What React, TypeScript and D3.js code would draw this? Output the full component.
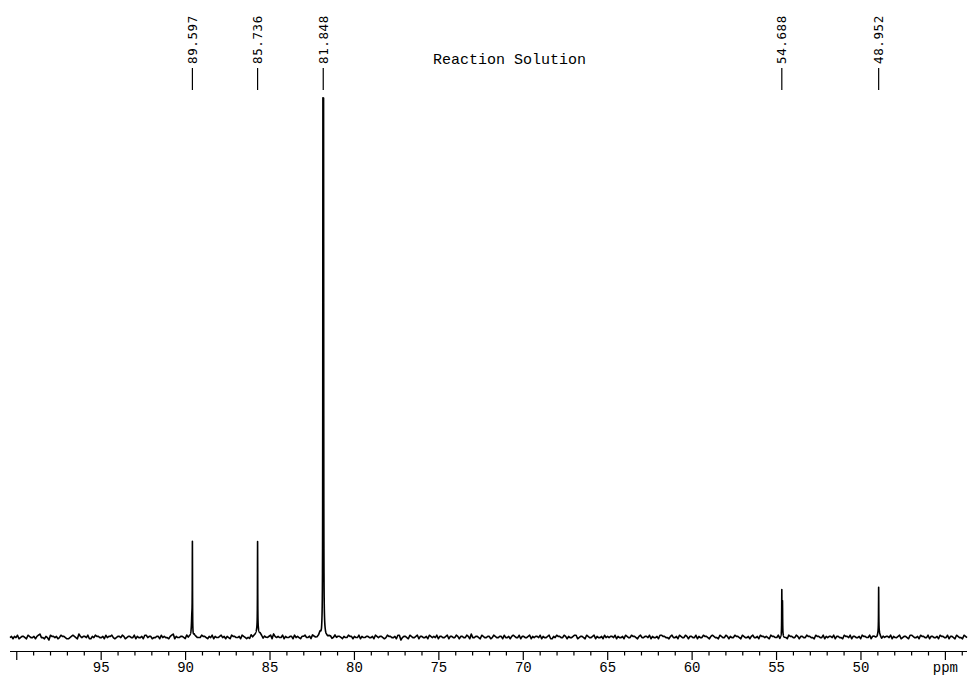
import React from "react";
import * as d3 from "d3";

// 13C spectrum of the reaction solution: resolved signals (ppm) and intensities (main line = 100)
const peakPpm = [89.597, 85.736, 81.848, 54.688, 48.952];
const peakHeight = [16.1, 15.9, 95.6, 8.3, 8.0];
const peakHalfWidth = [0.008, 0.008, 0.008, 0.008, 0.008];
// the strong line is an unresolved pair split by this much (ppm)
const peakSplit = [0, 0, 0.04, 0, 0];
// minor components sitting under each line (height, offset in ppm, half width)
const shoulderHeight = [3.7, 1.9, 4.4, 6.3, 0.9];
const shoulderOffset = [0.03, 0, 0, -0.04, 0];
const shoulderHalfWidth = [0.03, 0.08, 0.06, 0.01, 0.06];

// baseline noise, one digit per sample from 100.4 ppm downfield to 43.7 ppm
const baselineNoise = [
  "45354634554365445356744354265545346554334565437545546335465544536455643455465345",
  "54463544536645534455364544356735445543645536544465543546354456453543655445365434",
  "36455446535445637545446354455364543556445365445736544553464554354465535446354455",
  "44536545543465544536624554365445635544536545463554456355446535544653744554365445",
  "53465445536445356544635544563545546354456335465544653544566345543654456354453645",
  "45546354453654465543564455463544536655443564453654465355446354465543565443654465",
  "35446554365445356445365545436554463554436554465355446554436554463545546355443655",
  "46355445365544635544653545546354456345543665445365544635544536554463554365443654",
].join("");

const majorTicks = [100, 95, 90, 85, 80, 75, 70, 65, 60, 55, 50, 45];
const tickLabels = ["", "95", "90", "85", "80", "75", "70", "65", "60", "55", "50", "ppm"];
const minorTicks = d3.range(44, 101).filter((v) => v % 5 !== 0);

const title = "Reaction Solution";

const W = 969;
const H = 675;
const ppmMax = 100.4;
const ppmMin = 43.72;

export default function App() {
  const x = d3.scaleLinear().domain([ppmMax, ppmMin]).range([10, 967]);
  const y = d3.scaleLinear().domain([0, 100]).range([637, 97]);

  const noiseDigits = baselineNoise.split("").map(Number);
  const nNoise = noiseDigits.length;
  const noiseAt = (ppm: number) => {
    const t = ((ppmMax - ppm) / (ppmMax - ppmMin)) * (nNoise - 1);
    const i = Math.max(0, Math.min(nNoise - 2, Math.floor(t)));
    const f = Math.max(0, Math.min(1, t - i));
    const a = noiseDigits[i] - 4.5;
    const b = noiseDigits[i + 1] - 4.5;
    return (a * (1 - f) + b * f) * 0.22;
  };
  const lor = (d: number, w: number) => 1 / (1 + (d / w) * (d / w));
  const signal = (ppm: number) => {
    let v = noiseAt(ppm);
    peakPpm.forEach((p, i) => {
      const s = peakSplit[i] / 2;
      if (s > 0) {
        v += peakHeight[i] * Math.max(lor(ppm - p - s, peakHalfWidth[i]), lor(ppm - p + s, peakHalfWidth[i]));
      } else {
        v += peakHeight[i] * lor(ppm - p, peakHalfWidth[i]);
      }
      v += shoulderHeight[i] * lor(ppm - p - shoulderOffset[i], shoulderHalfWidth[i]);
    });
    return v;
  };

  const samples: number[] = d3.range(nNoise).map(
    (i) => ppmMax - (i * (ppmMax - ppmMin)) / (nNoise - 1)
  );
  peakPpm.forEach((p) => {
    for (let k = -30; k <= 30; k++) samples.push(p + k * 0.005);
  });
  samples.sort((a, b) => b - a);

  const line = d3
    .line<number>()
    .x((p) => x(p))
    .y((p) => y(signal(p)));

  const axisY = 651.5;

  return (
    <svg
      width={W}
      height={H}
      style={{ position: "absolute", left: 0, top: 0, background: "#fff" }}
    >
      <path d={line(samples) ?? ""} fill="none" stroke="#000" strokeWidth={1.6} strokeLinejoin="round" />

      {/* peak labels */}
      {peakPpm.map((p, i) => (
        <g key={i}>
          <line x1={x(p)} x2={x(p)} y1={68} y2={90} stroke="#000" strokeWidth={1.2} />
          <text
            transform={`translate(${x(p) + 4.5},64) rotate(-90)`}
            fontFamily="DejaVu Sans Mono"
            fontSize={12.5}
            letterSpacing={0.6}
            fill="#000"
          >
            {p.toFixed(3)}
          </text>
        </g>
      ))}

      <text x={433} y={64} fontFamily="Liberation Mono" fontSize={15} fill="#000">
        {title}
      </text>

      {/* ppm axis */}
      <line x1={10} x2={967} y1={axisY} y2={axisY} stroke="#000" strokeWidth={1.2} />
      {majorTicks.map((t, i) => (
        <g key={t}>
          <line x1={x(t)} x2={x(t)} y1={axisY} y2={660} stroke="#000" strokeWidth={1.2} />
          <text
            x={x(t)}
            y={672}
            textAnchor="middle"
            fontFamily="Liberation Mono"
            fontSize={14}
            fill="#000"
          >
            {tickLabels[i]}
          </text>
        </g>
      ))}
      {minorTicks.map((t) => (
        <line key={t} x1={x(t)} x2={x(t)} y1={axisY} y2={655.5} stroke="#000" strokeWidth={1.2} />
      ))}
    </svg>
  );
}
